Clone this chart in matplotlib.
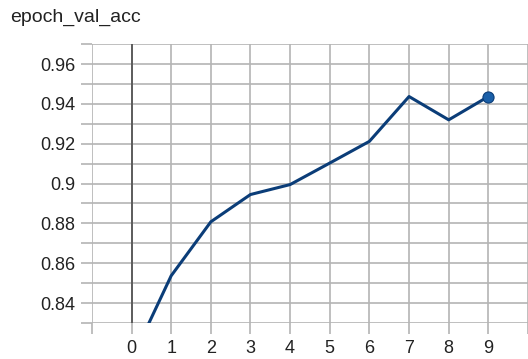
import matplotlib
matplotlib.use("Agg")
import matplotlib.pyplot as plt

plt.rcParams['font.family'] = ['Liberation Sans', 'DejaVu Sans']

# data
epochs = [0, 1, 2, 3, 4, 5, 6, 7, 8, 9]
val_acc = [0.8114, 0.8537, 0.8808, 0.8945, 0.8995, 0.9103, 0.9212, 0.9437, 0.932, 0.9437]

y_ticks = [0.84, 0.86, 0.88, 0.9, 0.92, 0.94, 0.96]
y_labels = ['0.84', '0.86', '0.88', '0.9', '0.92', '0.94', '0.96']
y_minor = [0.83, 0.85, 0.87, 0.89, 0.91, 0.93, 0.95, 0.97]
x_ticks = [-1, 0, 1, 2, 3, 4, 5, 6, 7, 8, 9, 10]
x_labels = ['', '0', '1', '2', '3', '4', '5', '6', '7', '8', '9', '']

fig = plt.figure(figsize=(5.28, 3.59), dpi=100)
ax = fig.add_axes([0.174, 0.1003, 0.826, 0.7767])

grid_col = '#b4b4b4'
ax.set_xlim(-1, 10)
ax.set_ylim(0.83, 0.97)
ax.set_xticks(x_ticks)
ax.set_xticklabels(x_labels)
ax.set_yticks(y_ticks)
ax.set_yticklabels(y_labels)
ax.set_yticks(y_minor, minor=True)
ax.grid(True, which='both', color=grid_col, linewidth=1.2)
ax.set_axisbelow(True)
for s in ax.spines.values():
    s.set_visible(False)
ax.tick_params(axis='both', which='both', length=8, width=1.2, color=grid_col,
               labelsize=13, labelcolor='#222222', pad=4)
ax.tick_params(axis='y', which='minor', length=8)

# darker line at x = 0
ax.axvline(0, color='#555555', linewidth=1.3, zorder=1.5)

ax.plot(epochs, val_acc, color='#0b3d78', linewidth=2.2, clip_on=True, zorder=3)
ax.plot(epochs[-1], val_acc[-1], 'o', color='#1a5fa8', markersize=8,
        markeredgecolor='#0b3d78', markeredgewidth=0.8, zorder=4)

fig.text(0.02, 0.952, 'epoch_val_acc', fontsize=14, color='#222222',
         ha='left', va='center')

fig.savefig('out.png', dpi=100)
